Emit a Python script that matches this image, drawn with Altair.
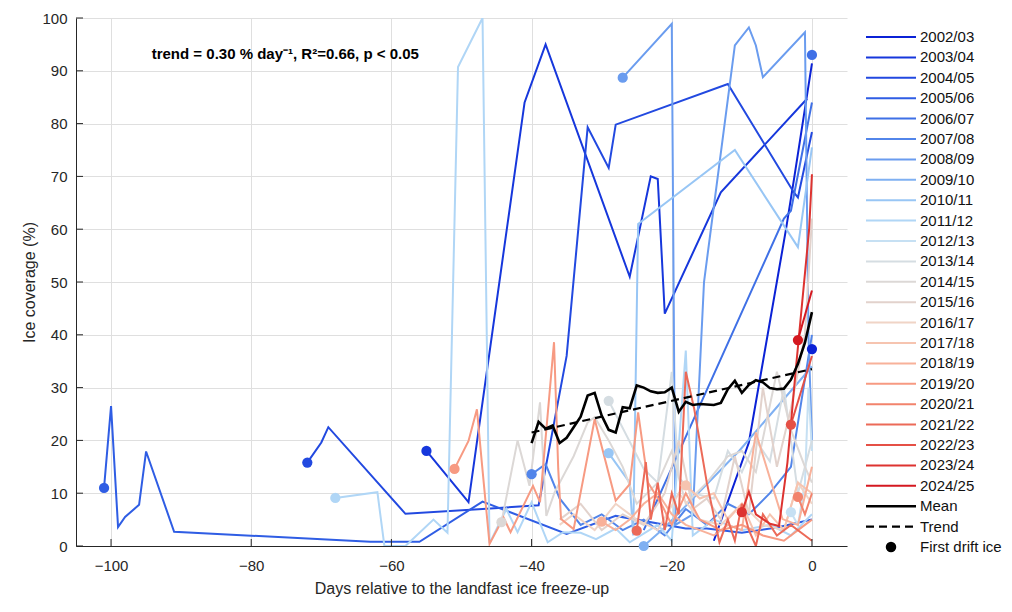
import altair as alt
import pandas as pd

# seasons and their colours (blue -> grey -> red)
seasons = ["2002/03", "2003/04", "2004/05", "2005/06", "2006/07", "2007/08",
           "2008/09", "2009/10", "2010/11", "2011/12", "2012/13", "2013/14",
           "2014/15", "2015/16", "2016/17", "2017/18", "2018/19", "2019/20",
           "2020/21", "2021/22", "2022/23", "2023/24", "2024/25"]
palette = ["#0b22d6", "#1637dc", "#2249e0", "#2f5de4", "#3f70e6", "#5285ea",
           "#6a9cef", "#7fb0f2", "#98c6f5", "#b0d6f6", "#c6e0f3", "#d5dde2",
           "#dcd8d6", "#e2d2cc", "#f0d4c6", "#f6c4b0", "#f8b19a", "#f79a82",
           "#f2836c", "#ec6a58", "#e55046", "#dd3330", "#d41820"]

# (day relative to freeze-up, ice coverage %)
s0203 = [(-14, 1), (-9, 19.6), (-3.7, 60), (-2.5, 70), (0, 91.4)]
s0304 = [(-55, 18), (-49, 8.3), (-41, 84), (-38, 95), (-26, 51), (-23, 70), (-22, 69.5),
         (-21, 44), (-13, 67), (-0.7, 84.7)]
s0405 = [(-72, 15.8), (-70, 19.6), (-69, 22.5), (-58, 6.1), (-47, 7), (-39, 7.7), (-35, 36),
         (-32, 79.3), (-29, 71.6), (-28, 79.8), (-12, 87.5), (-2.6, 67), (-2, 66), (0, 78.4)]
s0506 = [(-101, 11), (-100, 26.5), (-99, 3.6), (-98, 5.5), (-96, 7.8), (-95, 17.9), (-91, 2.7),
         (-63, 0.8), (-56, 0.8), (-47, 8.4), (-35, 2.3), (-28, 5.7), (-18, 3.3), (-15, 3.3),
         (-10, 2.5), (-5, 3.5), (0, 5)]
s0607 = [(-24, 3), (-4, 62), (-3, 63.5), (0, 84)]
s0708 = [(-40, 13.6), (-38, 15.5), (-36, 9), (-33, 4), (-30, 6), (-27, 3), (-24, 5), (-21, 2),
         (-18, 7), (-15, 4), (-12, 8), (-9, 6), (-6, 10), (-3, 15), (0, 40)]
s0809 = [(-27, 88.7), (-20, 98.9), (-19.5, 4), (-17, 6), (-15.4, 50), (-11, 94.8), (-9, 98.2),
         (-8, 94.8), (-7, 88.8), (-1, 97.3), (-0.5, 40), (0, 20)]
s0910 = [(-24, 0), (-21, 3.5), (-10.4, 18), (0, 34)]
s1011 = [(-29, 17.6), (-26, 12), (-25.5, 2), (-24.8, 61), (-11, 75), (-2, 56.6), (0, 75.5)]
s1112 = [(-68, 9.1), (-62, 10.2), (-61, 0), (-58, 0), (-54, 5), (-52, 2.5), (-50.5, 90.7),
         (-47, 100), (-46, 0.5), (-43.6, 7), (-42, 2.6), (-40, 8.3), (-37.7, 0.7), (-35.5, 2.6),
         (-33, 2.5), (-30.8, 1.3), (-28, 3.3), (-26, 0.7), (-22, 4), (-20, 1), (-18, 37),
         (-17, 2), (-14, 5), (-10, 3), (-6, 4), (-3, 2), (0, 6)]
s1213 = [(-3, 6.4), (-2, 4), (-1, 12), (-0.5, 30), (0, 18)]
s1314 = [(-29, 27.5), (-24, 14.6), (-22, 12), (-20, 33), (-19, 13), (-17, 10), (-14, 9),
         (-12, 18), (-10, 14), (-8, 20), (-6, 16), (-4, 30), (-2, 10), (0, 20)]
s1415 = [(-44.3, 4.5), (-42, 20), (-40.3, 11.4), (-38.8, 27.2), (-37.9, 5.7), (-36.7, 10.2),
         (-34, 17), (-32, 23.4), (-31, 24.4), (-29, 20), (-27, 15), (-25, 8), (-22, 12),
         (-20, 18), (-18, 8), (-15, 12), (-12, 17), (-10, 18), (-8, 14), (-5, 33), (-3, 22),
         (-1, 15), (0, 12)]
s1516 = [(-36, 5), (-33, 8), (-30, 3), (-27, 6), (-24, 4), (-21, 10), (-19, 20), (-17, 7),
         (-15, 9), (-13, 5), (-11, 17), (-9, 6), (-7, 30), (-5, 15), (-3, 26), (-1, 40), (0, 62)]
s1617 = [(-36, 4), (-34, 6), (-31, 3), (-28, 8), (-25, 5), (-22, 3), (-19, 10), (-16, 5),
         (-13, 4), (-10, 8), (-7, 4), (-4, 3), (-2, 12), (0, 8)]
s1718 = [(-18, 11.5), (-16, 9), (-14, 10), (-12, 5), (-10, 8), (-8, 2), (-6, 6), (-4, 3),
         (-2, 12), (0, 10)]
s1819 = [(-30, 4.6), (-28, 3), (-26, 5), (-24, 8), (-22, 10), (-20, 6), (-18, 4), (-16, 3),
         (-14, 2), (-12, 4), (-10, 3), (-8, 21.5), (-4.2, 5.1), (-2, 4), (0, 15)]
s1920 = [(-51, 14.6), (-49, 19.9), (-47.8, 25.9), (-47.1, 15.8), (-46, 0.4), (-44, 5.4),
         (-43, 2.6), (-39.8, 11.4), (-38.8, 8.3), (-36.8, 38.6), (-36.2, 14.6), (-35.8, 5.1),
         (-34, 3.2), (-31, 24), (-28, 8.6), (-26, 11.7), (-24.8, 25.3), (-23.4, 12), (-21.5, 8),
         (-20, 4), (-18, 10), (-16, 5), (-13, 3), (-10, 4), (-7, 2), (-4, 1), (-2, 3), (0, 5)]
s2021 = [(-2, 9.3), (-1, 6), (0, 10)]
s2122 = [(-25, 2.9), (-23.7, 15.9), (-23, 5), (-22, 12), (-21, 3), (-20, 10), (-19, 6),
         (-18, 33), (-16.8, 26), (-15, 12), (-13.2, 0.7), (-12, 5), (-11, 1), (-10, 8), (-9, 3),
         (-8, 0), (-7, 6), (-5, 2), (-3, 4), (0, 1)]
s2223 = [(-3, 23), (0, 36)]
s2324 = [(-10, 6.4), (-9, 10.3), (-8, 6), (-6, 4.2), (-4.7, 3.8), (-3.5, 15.8), (-2.3, 33.5),
         (-0.4, 60), (0, 70.4)]
s2425 = [(-2, 39), (0, 48.4)]

tracks = [s0203, s0304, s0405, s0506, s0607, s0708, s0809, s0910, s1011, s1112, s1213,
          s1314, s1415, s1516, s1617, s1718, s1819, s1920, s2021, s2122, s2223, s2324, s2425]

# first drift ice
dot_season = ["2002/03", "2003/04", "2004/05", "2005/06", "2006/07", "2007/08", "2008/09",
              "2009/10", "2010/11", "2011/12", "2012/13", "2013/14", "2014/15", "2017/18",
              "2018/19", "2019/20", "2020/21", "2021/22", "2022/23", "2023/24", "2024/25"]
dot_day = [0, -55, -72, -101, 0, -40, -27, -24, -29, -68, -3, -29, -44.3, -18, -30, -51, -2,
           -25, -3, -10, -2]
dot_ice = [37.3, 18, 15.8, 11, 93, 13.6, 88.7, 0, 17.6, 9.1, 6.4, 27.5, 4.5, 11.5, 4.6, 14.6,
           9.3, 2.9, 23, 6.4, 39]

# mean of all seasons and its linear trend
mean_day = list(range(-40, 1))
mean_ice = [19.5, 23.5, 22.2, 22.8, 19.5, 20.5, 22.5, 24.5, 28.5, 29, 24.7, 22, 21.5, 26.3,
            26.1, 30.4, 30, 29.3, 29, 29.1, 30, 25.4, 27.3, 26.7, 26.9, 26.8, 26.7, 27.1, 29.7,
            31.3, 29, 30.5, 31.4, 31, 29.9, 29.7, 29.8, 31.5, 34.5, 38.5, 44.3]
trend_day = [-40, 0]
trend_ice = [21.5, 33.5]

x_ticks = [-100, -80, -60, -40, -20, 0]
y_ticks = list(range(0, 101, 10))

rows = []
for season, track in zip(seasons, tracks):
    for d, v in track:
        rows.append({"season": season, "day": d, "ice": v})
df = pd.DataFrame(rows)
dots = pd.DataFrame({"season": dot_season, "day": dot_day, "ice": dot_ice})
mean_df = pd.DataFrame({"day": mean_day, "ice": mean_ice})
trend_df = pd.DataFrame({"day": trend_day, "ice": trend_ice})

FONT = "Liberation Sans"

x_scale = alt.Scale(domain=[-105, 5], nice=False, zero=False)
y_scale = alt.Scale(domain=[0, 100], nice=False)
x = alt.X("day:Q", scale=x_scale,
          axis=alt.Axis(values=x_ticks, title="Days relative to the landfast ice freeze-up",
                        labelPadding=12, titlePadding=7))
y = alt.Y("ice:Q", scale=y_scale,
          axis=alt.Axis(values=y_ticks, title="Ice coverage (%)",
                        labelPadding=9, titlePadding=4))
color = alt.Color("season:N", scale=alt.Scale(domain=seasons, range=palette), legend=None)

lines = alt.Chart(df).mark_line(strokeWidth=2, clip=True).encode(x=x, y=y, color=color)
points = alt.Chart(dots).mark_circle(size=105, opacity=1).encode(x=x, y=y, color=color)
mean_line = alt.Chart(mean_df).mark_line(color="black", strokeWidth=2.6).encode(x=x, y=y)
trend_line = alt.Chart(trend_df).mark_line(color="black", strokeWidth=2.2,
                                           strokeDash=[8, 5]).encode(x=x, y=y)
note = alt.Chart(pd.DataFrame({"n": [0]})).mark_text(
    text="trend = 0.30 % day⁻¹, R²=0.66, p < 0.05", align="left", baseline="middle",
    fontWeight="bold", fontSize=15, font=FONT, color="black"
).encode(x=alt.datum(-94.2), y=alt.datum(93.2))

# inward ticks (left and bottom axes)
ytick_marks = alt.Chart(pd.DataFrame({"ice": y_ticks})).mark_rule(
    color="#262626", strokeWidth=1).encode(x=alt.value(0), x2=alt.value(7), y=y)
xtick_marks = alt.Chart(pd.DataFrame({"day": x_ticks})).mark_rule(
    color="#262626", strokeWidth=1).encode(y=alt.value(528), y2=alt.value(521), x=x)

main = alt.layer(lines, points, mean_line, trend_line, note, ytick_marks, xtick_marks
                 ).properties(width=771, height=528)

# hand-made legend
legend_labels = seasons + ["Mean", "Trend", "First drift ice"]
leg = pd.DataFrame({"row": list(range(len(legend_labels))), "label": legend_labels,
                    "color": palette + ["black", "black", "black"]})
ly = alt.Y("row:Q", scale=alt.Scale(domain=[-0.93, 24.95], reverse=True, nice=False, zero=False),
           axis=None)
leg_base = alt.Chart(leg)
leg_seasons = leg_base.transform_filter("datum.row < 23").mark_rule(strokeWidth=2).encode(
    x=alt.value(9), x2=alt.value(59), y=ly, color=alt.Color("color:N", scale=None))
leg_mean = leg_base.transform_filter("datum.row == 23").mark_rule(
    strokeWidth=2.6, color="black").encode(x=alt.value(9), x2=alt.value(59), y=ly)
leg_trend = leg_base.transform_filter("datum.row == 24").mark_rule(
    strokeWidth=2.2, color="black", strokeDash=[8, 5]).encode(x=alt.value(9), x2=alt.value(59), y=ly)
leg_dot = leg_base.transform_filter("datum.row == 25").mark_circle(
    size=110, color="black", opacity=1).encode(x=alt.value(34), y=ly)
leg_text = leg_base.mark_text(align="left", baseline="middle", fontSize=15, font=FONT,
                              color="#111111").encode(x=alt.value(63), y=ly, text="label:N")
legend = alt.layer(leg_seasons, leg_mean, leg_trend, leg_dot, leg_text).properties(
    width=130, height=528)

chart = alt.hconcat(main, legend, spacing=10).properties(
    padding={"left": 13, "top": 3, "right": 0, "bottom": 4}
).configure_view(stroke=None).configure_axis(
    labelFont=FONT, titleFont=FONT, labelFontSize=15, titleFontSize=16,
    labelColor="#262626", titleColor="#262626", titleFontWeight="normal",
    domainColor="#262626", domainWidth=1, ticks=False,
    gridColor="#dfdfdf", gridWidth=1
)

chart.save("out.html", embed_options={"renderer": "svg", "actions": False})
